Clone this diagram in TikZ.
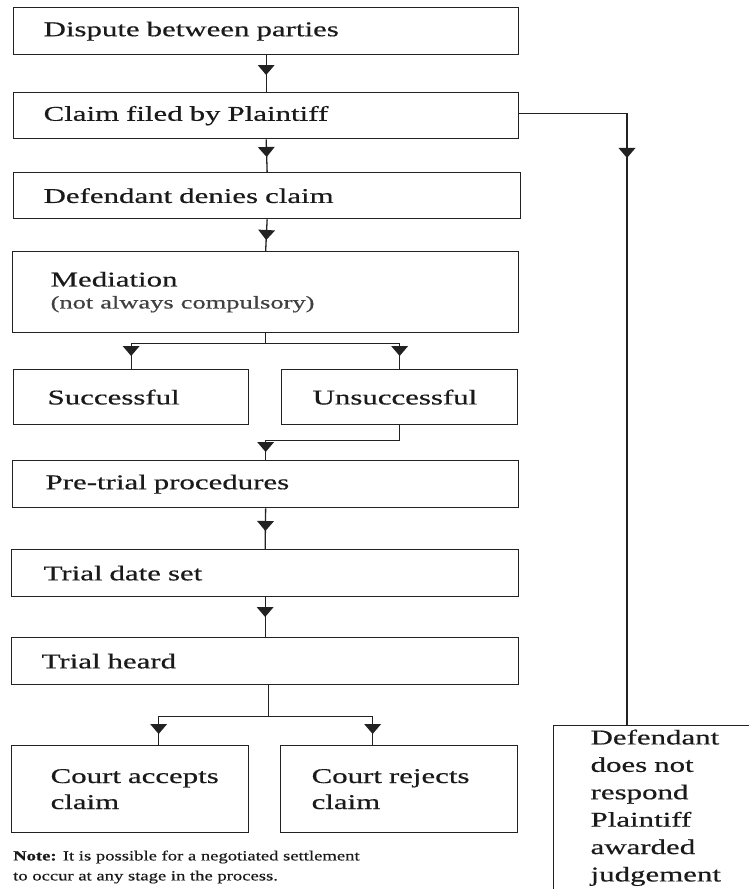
\documentclass[tikz,border=0pt]{standalone}
\usepackage{fontspec}
\setmainfont{Liberation Serif}[FakeStretch=1.47,FakeBold=0.5]
\newfontfamily\notefont{Liberation Serif}[FakeStretch=1.33,FakeBold=0.4]
\usetikzlibrary{decorations.markings}
\definecolor{linec}{HTML}{222222}
\definecolor{textc}{HTML}{1A1A1A}
\tikzset{
  box/.style={draw=linec, line width=1.3pt, rectangle, anchor=north west,
    inner ysep=0pt, align=left, text=textc, font=\fontsize{21}{26}\selectfont},
  flow/.style={draw=linec, line width=1.3pt, postaction={decorate},
    decoration={markings, mark=at position #1 with {\fill[linec] (0pt,0pt) -- (-10pt,8.5pt) -- (-10pt,-8.5pt) -- cycle;}}},
  flow/.default=-12pt,
  notetext/.style={anchor=west, inner sep=0pt, align=left, text=textc,
    font=\notefont\fontsize{14}{20}\selectfont}
}
\begin{document}
\begin{tikzpicture}[x=1pt,y=-1pt]
\useasboundingbox (0,0) rectangle (749,889);
\clip (0,0) rectangle (749,889);
\fill[white] (0,0) rectangle (749,889);

\node[box, minimum width=505pt, minimum height=47pt, inner xsep=30pt, text width=445pt] (dispute) at (13,7) {\mbox{Dispute between parties}};
\node[box, minimum width=505pt, minimum height=46pt, inner xsep=30pt, text width=445pt] (claim) at (13,92) {\mbox{Claim filed by Plaintiff}};
\node[box, minimum width=507pt, minimum height=46pt, inner xsep=30pt, text width=447pt] (denies) at (13,172) {\mbox{Defendant denies claim}};
\node[box, minimum width=506pt, minimum height=81pt, inner xsep=38pt, text width=430pt, font=\fontsize{21}{22}\selectfont] (mediation) at (12,251) {\mbox{Mediation}\\\mbox{\color{black!75}\fontsize{18}{22}\selectfont(not always compulsory)}};
\node[box, minimum width=235pt, minimum height=55pt, inner xsep=34pt, text width=167pt] (successful) at (13,369) {\mbox{Successful}};
\node[box, minimum width=236pt, minimum height=55pt, inner xsep=31pt, text width=174pt] (unsuccessful) at (281,369) {\mbox{Unsuccessful}};
\node[box, minimum width=506pt, minimum height=47pt, inner xsep=33pt, text width=440pt] (pretrial) at (12,460) {\mbox{Pre-trial procedures}};
\node[box, minimum width=507pt, minimum height=47pt, inner xsep=32pt, text width=443pt] (trialdate) at (11,549) {\mbox{Trial date set}};
\node[box, minimum width=507pt, minimum height=47pt, inner xsep=30pt, text width=447pt] (trialheard) at (11,637) {\mbox{Trial heard}};
\node[box, minimum width=237pt, minimum height=87pt, inner xsep=39pt, text width=159pt] (accepts) at (11,745) {\mbox{Court accepts}\\\mbox{claim}};
\node[box, minimum width=237pt, minimum height=87pt, inner xsep=31pt, text width=175pt] (rejects) at (280,745) {\mbox{Court rejects}\\\mbox{claim}};
\node[box, minimum width=220pt, inner xsep=37pt, inner ysep=4pt, text width=146pt, font=\fontsize{21}{27.4}\selectfont] (rightbox) at (553,725) {\mbox{Defendant}\\\mbox{does not}\\\mbox{respond}\\\mbox{Plaintiff}\\\mbox{awarded}\\\mbox{judgement}};

\node[notetext] (note) at (13,867) {\mbox{\textbf{Note:} It is possible for a negotiated settlement}\\\mbox{to occur at any stage in the process.}};

\draw[flow=-17pt] (dispute.south) -- (claim.north);
\draw[flow=-15pt] (claim.south) -- (denies.north);
\draw[flow=-11pt] (denies.south) -- (mediation.north);
\draw[flow=-13pt] (mediation.south) -- ++(0,10) -| (successful.north);
\draw[flow=-13pt] (mediation.south) -- ++(0,10) -| (unsuccessful.north);
\draw[flow=-8pt] (unsuccessful.south) -- ++(0,15) -| (pretrial.north);
\draw[flow=-18pt] (pretrial.south) -- (trialdate.north);
\draw[flow=-20pt] (trialdate.south) -- (trialheard.north);
\draw[flow=-11pt] ([xshift=3pt]trialheard.south) -- ++(0,31) -| ([xshift=28.5pt]accepts.north);
\draw[flow=-11pt] ([xshift=3pt]trialheard.south) -- ++(0,31) -| ([xshift=-26.5pt]rejects.north);
\draw[flow=152pt] ([yshift=2pt]claim.east) -| ([xshift=74pt]rightbox.north west);
\end{tikzpicture}
\end{document}
